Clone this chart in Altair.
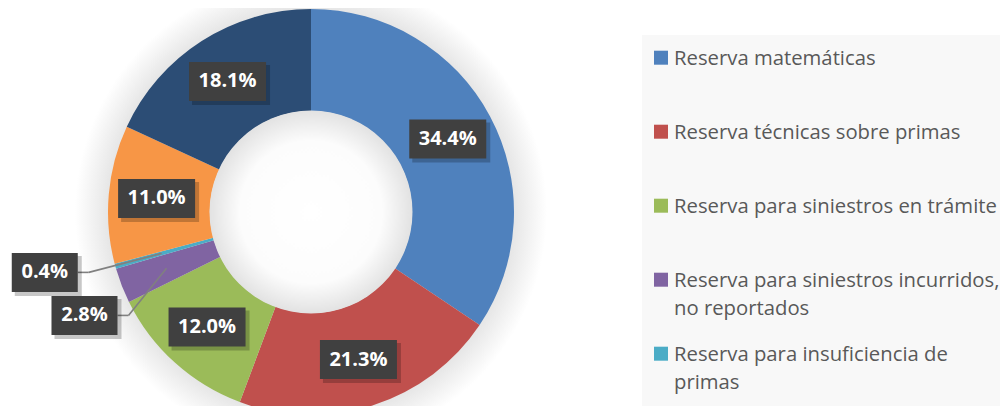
import altair as alt
import pandas as pd

# ---------------- data ----------------
categories = [
    "Reserva matemáticas",
    "Reserva técnicas sobre primas",
    "Reserva para siniestros en trámite",
    "Reserva para siniestros incurridos, no reportados",
    "Reserva para insuficiencia de primas",
    "Reserva de riesgos catastróficos",
    "Otras reservas",
]
legend_text = [
    "Reserva matemáticas",
    "Reserva técnicas sobre primas",
    "Reserva para siniestros en trámite",
    "Reserva para siniestros incurridos,\nno reportados",
    "Reserva para insuficiencia de\nprimas",
    "Reserva de riesgos catastróficos",
    "Otras reservas",
]
shares = [34.4, 21.3, 12.0, 2.8, 0.4, 11.0, 18.1]
colors = ["#4F81BD", "#C0504D", "#9BBB59", "#8064A2", "#4BACC6", "#F79646", "#2C4D75"]

# ---------------- layout ----------------
CX, CY = 303, 204          # donut centre (view px)
R_OUT, R_IN, R_LAB = 203, 101, 155
W, H = 992, 398
VISIBLE_LEGEND_ROWS = 5    # the rest of the legend lies below the visible area

df = pd.DataFrame({"idx": list(range(len(shares))), "cat": categories,
                   "legend": legend_text, "share": shares})
one = pd.DataFrame({"a": [0]})

base = (
    alt.Chart(df)
    .transform_window(cum="sum(share)", sort=[alt.SortField("idx")], frame=[None, 0])
    .transform_joinaggregate(total="sum(share)")
    .transform_calculate(
        mid="(datum.cum - datum.share/2) / datum.total * 2 * PI",
        rl=f"datum.share < 1 ? 273 : (datum.share < 5 ? 249 : {R_LAB})",
        dt="(datum.share < 1 ? 2.7 : (datum.share < 5 ? -3.3 : 0)) * PI / 180",
        lab="format(datum.share, '.1f') + '%'",
    )
    .transform_calculate(
        px=f"{CX} + datum.rl * sin(datum.mid + datum.dt)",
        py=f"{CY} - datum.rl * cos(datum.mid + datum.dt)",
        w="length(datum.lab) == 4 ? 66 : 77",
        ax=f"{CX} + {R_LAB} * sin(datum.mid)",
        ay=f"{CY} - {R_LAB} * cos(datum.mid)",
    )
    .transform_calculate(
        bx1="datum.px - datum.w/2",
        bx2="datum.px + datum.w/2",
        by1="datum.py - 19.5",
        by2="datum.py + 19.5",
        lx2="datum.px + datum.w/2 + 11",
    )
)

glow = alt.Chart(one).mark_arc(
    theta=0, theta2=6.2832, radius=236,
    color=alt.RadialGradient(gradient="radial", stops=[
        alt.GradientStop(offset=0, color="#e6e6e6"),
        alt.GradientStop(offset=0.86, color="#e6e6e6"),
        alt.GradientStop(offset=1, color="#ffffff"),
    ]),
).encode(x=alt.value(CX), y=alt.value(CY))

donut = alt.Chart(df).mark_arc(radius=R_OUT, radius2=R_IN).encode(
    theta=alt.Theta("share:Q", stack=True),
    order=alt.Order("idx:Q"),
    color=alt.Color("cat:N", scale=alt.Scale(domain=categories, range=colors), legend=None),
    x=alt.value(CX), y=alt.value(CY),
)

hole = alt.Chart(one).mark_arc(
    theta=0, theta2=6.2832, radius=R_IN + 0.5,
    color=alt.RadialGradient(gradient="radial", stops=[
        alt.GradientStop(offset=0, color="#ffffff"),
        alt.GradientStop(offset=0.7, color="#fcfcfc"),
        alt.GradientStop(offset=1, color="#e2e2e2"),
    ]),
).encode(x=alt.value(CX), y=alt.value(CY))

outside = base.transform_filter("datum.share < 5")
lead1 = outside.mark_rule(color="#808080", strokeWidth=1.6).encode(
    x=alt.X("bx2:Q", scale=None), x2="lx2:Q",
    y=alt.Y("py:Q", scale=None), y2="py:Q")
lead2 = outside.mark_rule(color="#808080", strokeWidth=1.6).encode(
    x=alt.X("lx2:Q", scale=None), x2="ax:Q",
    y=alt.Y("py:Q", scale=None), y2="ay:Q")

shadow = base.transform_calculate(
    sx1="datum.bx1 + 3", sx2="datum.bx2 + 4", sy1="datum.by1 + 3", sy2="datum.by2 + 4"
).mark_rect(color="#000000", opacity=0.22).encode(
    x=alt.X("sx1:Q", scale=None), x2="sx2:Q",
    y=alt.Y("sy1:Q", scale=None), y2="sy2:Q")

boxes = base.mark_rect(color="#404040").encode(
    x=alt.X("bx1:Q", scale=None), x2="bx2:Q",
    y=alt.Y("by1:Q", scale=None), y2="by2:Q")

labels = base.mark_text(font="Open Sans", fontWeight="bold", fontSize=20,
                        color="#ffffff", align="center", baseline="middle").encode(
    x=alt.X("px:Q", scale=None), y=alt.Y("py:Q", scale=None), text="lab:N")

legend_bg = alt.Chart(one).mark_rect(color="#f8f8f8").encode(
    x=alt.value(634), x2=alt.value(W), y=alt.value(27), y2=alt.value(H))

leg = alt.Chart(df).transform_filter(
    f"datum.idx < {VISIBLE_LEGEND_ROWS}"
).transform_calculate(
    ly="49.7 + 74 * datum.idx",
).transform_calculate(
    sq1="datum.ly - 7", sq2="datum.ly + 7", ty="datum.ly + 7.5",
)
leg_sq = leg.mark_rect().encode(
    x=alt.value(646), x2=alt.value(660),
    y=alt.Y("sq1:Q", scale=None), y2="sq2:Q",
    color=alt.Color("cat:N", scale=alt.Scale(domain=categories, range=colors), legend=None))
leg_txt = leg.mark_text(font="Open Sans", fontSize=20.3, color="#595959", align="left",
                        baseline="alphabetic", lineBreak="\n", lineHeight=28).encode(
    x=alt.value(666), y=alt.Y("ty:Q", scale=None), text="legend:N")

chart = alt.layer(
    glow, donut, hole, lead1, lead2, shadow, boxes, labels, legend_bg, leg_sq, leg_txt
).properties(
    width=W, height=H, autosize=alt.AutoSizeParams(type="none"), padding=0
).configure_view(stroke=None)

chart.save("out.html", embed_options={"renderer": "svg", "actions": False})
